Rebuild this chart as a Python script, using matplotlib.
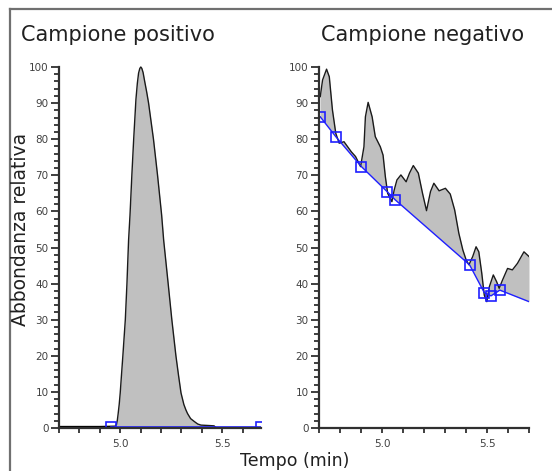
import matplotlib
matplotlib.use("Agg")
import matplotlib.pyplot as plt
import numpy as np
from matplotlib.lines import Line2D
from matplotlib.ticker import MultipleLocator, FixedLocator

# ---- data: positive sample ----
pos_time = [4.70, 4.90, 4.975, 4.982, 4.986, 4.990, 4.995, 5.000, 5.006, 5.013, 5.019, 5.025,
            5.033, 5.041, 5.048, 5.057, 5.066, 5.072, 5.077, 5.084, 5.090, 5.096, 5.101,
            5.106, 5.112, 5.120, 5.130, 5.139, 5.151, 5.163, 5.183, 5.203, 5.213, 5.224,
            5.235, 5.253, 5.273, 5.286, 5.298, 5.312, 5.322, 5.330, 5.345, 5.363, 5.380,
            5.396, 5.430, 5.460, 5.465]
pos_abund = [0.4, 0.4, 0.5, 1.0, 2.2, 4.0, 6.5, 9.7, 14.5, 20, 25, 30,
             40, 52, 59, 70, 80, 86, 91, 95.5, 98.3, 99.6, 100,
             99.6, 98.5, 96, 93, 90, 85, 80, 70, 59, 52, 46,
             40, 30, 20, 14.5, 9.7, 6.5, 5.0, 4.0, 2.6, 1.8, 1.1,
             0.8, 0.7, 0.6, 0.3]
pos_base_time = [4.955, 5.69]
pos_base_abund = [0.3, 0.3]

# ---- data: negative sample ----
neg_time = [4.706, 4.717, 4.736, 4.749, 4.764, 4.780, 4.796, 4.819, 4.854, 4.874, 4.898,
            4.914, 4.921, 4.934, 4.953, 4.968, 4.992, 5.005, 5.016, 5.027, 5.047, 5.058,
            5.071, 5.090, 5.115, 5.131, 5.149, 5.173, 5.193, 5.212, 5.231, 5.247, 5.272,
            5.302, 5.325, 5.346, 5.366, 5.385, 5.401, 5.414, 5.432, 5.448, 5.461, 5.475,
            5.487, 5.499, 5.511, 5.530, 5.546, 5.558, 5.574, 5.598, 5.621, 5.645, 5.676,
            5.700]
neg_abund = [91.8, 96.4, 99.4, 97.3, 88.1, 81.6, 78.9, 79.3, 76.5, 75.2, 72.4,
             77.9, 86.2, 90.2, 86.2, 80.7, 77.9, 75.6, 69.6, 65.0, 62.7, 65.9,
             68.7, 70.1, 68.2, 70.6, 72.7, 70.6, 65.0, 60.2, 65.5, 67.8, 65.7,
             66.4, 64.8, 60.4, 53.9, 49.3, 46.5, 45.2, 47.5, 50.2, 48.8, 42.9,
             36.8, 35.0, 39.1, 42.4, 40.5, 38.7, 41.0, 44.2, 43.8, 45.6, 48.8,
             47.5]
neg_base_time = [4.706, 4.780, 4.902, 5.024, 5.063, 5.417, 5.487, 5.519, 5.561]
neg_base_abund = [86.2, 80.7, 72.4, 65.5, 63.2, 45.2, 37.5, 36.6, 38.2]
neg_base_end_time = [5.561, 5.700]
neg_base_end_abund = [38.2, 35.0]

titles = ["Campione positivo", "Campione negativo"]
ylabel = "Abbondanza relativa"
xlabel = "Tempo (min)"

W, H = 552, 471
fig = plt.figure(figsize=(W / 100, H / 100), dpi=100)
plt.rcParams['font.family'] = ['DejaVu Sans']

# outer frame (left and top only)
fig.add_artist(Line2D([10 / W, 10 / W], [0, 1 - 9 / H], color="#707070", lw=1.6))
fig.add_artist(Line2D([10 / W, 1], [1 - 9 / H, 1 - 9 / H], color="#707070", lw=1.6))

fill_c = "#c0c0c0"
line_c = "#1a1a1a"
blue = "#1f1fff"


def style(ax, xlim):
    ax.set_xlim(*xlim)
    ax.set_ylim(0, 100)
    for s in ["top", "right"]:
        ax.spines[s].set_visible(False)
    for s in ["left", "bottom"]:
        ax.spines[s].set_linewidth(1.6)
        ax.spines[s].set_color("#303030")
    ax.yaxis.set_major_locator(MultipleLocator(10))
    ax.yaxis.set_minor_locator(MultipleLocator(2))
    ax.xaxis.set_major_locator(FixedLocator([5.0, 5.5]))
    ax.xaxis.set_minor_locator(MultipleLocator(0.1))
    ax.tick_params(axis="y", which="major", length=6, width=1.3, color="#303030",
                   labelsize=7.5, labelcolor="#404040", pad=1.5)
    ax.tick_params(axis="y", which="minor", length=3.6, width=1.3, color="#303030")
    ax.tick_params(axis="x", which="both", length=3.8, width=1.3, color="#303030",
                   labelsize=7.5, labelcolor="#404040", pad=4)
    ax.xaxis.set_major_formatter(plt.FuncFormatter(lambda v, p: f"{v:.1f}"))
    ax.set_facecolor("none")


# left panel
ax1 = fig.add_axes([59 / W, 1 - 428 / H, (261 - 59) / W, (428 - 67) / H])
style(ax1, (4.70, 5.69))
pt = np.array(pos_time)
pa = np.array(pos_abund)
ax1.fill_between(pt, pa, 0.3, color=fill_c, lw=0)
ax1.plot(pt, pa, color=line_c, lw=1.0, clip_on=False)
ax1.plot([4.70, 4.96], [0.4, 0.4], color="black", lw=2.2)
ax1.plot(pos_base_time, pos_base_abund, color=blue, lw=1.2)
ax1.plot(pos_base_time, pos_base_abund, ls="none", marker="s", ms=7, mfc="none",
         mec=blue, mew=1.2)

# right panel
ax2 = fig.add_axes([319 / W, 1 - 428 / H, (529 - 319) / W, (428 - 67) / H])
style(ax2, (4.70, 5.70))
nt = np.array(neg_time)
na = np.array(neg_abund)
bt = np.array(neg_base_time + neg_base_end_time[1:])
ba = np.array(neg_base_abund + neg_base_end_abund[1:])
base_interp = np.interp(nt, bt, ba)
ax2.fill_between(nt, na, base_interp, color=fill_c, lw=0)
ax2.plot(nt, na, color=line_c, lw=1.0)
ax2.plot(bt, ba, color=blue, lw=1.0)
ax2.plot(neg_base_time, neg_base_abund, ls="none", marker="s", ms=7, mfc="none",
         mec=blue, mew=1.2)

# texts
fig.text(21 / W, 1 - 35 / H, titles[0], fontsize=15, color="#202020", va="center", ha="left")
fig.text(321 / W, 1 - 35 / H, titles[1], fontsize=15, color="#202020", va="center", ha="left")
fig.text(21 / W, 1 - 229 / H, ylabel, fontsize=13.5, color="#202020", rotation=90,
         va="center", ha="center")
fig.text(295 / W, 1 - 461 / H, xlabel, fontsize=12.5, color="#202020", va="center", ha="center")

fig.savefig("out.png", dpi=100)
